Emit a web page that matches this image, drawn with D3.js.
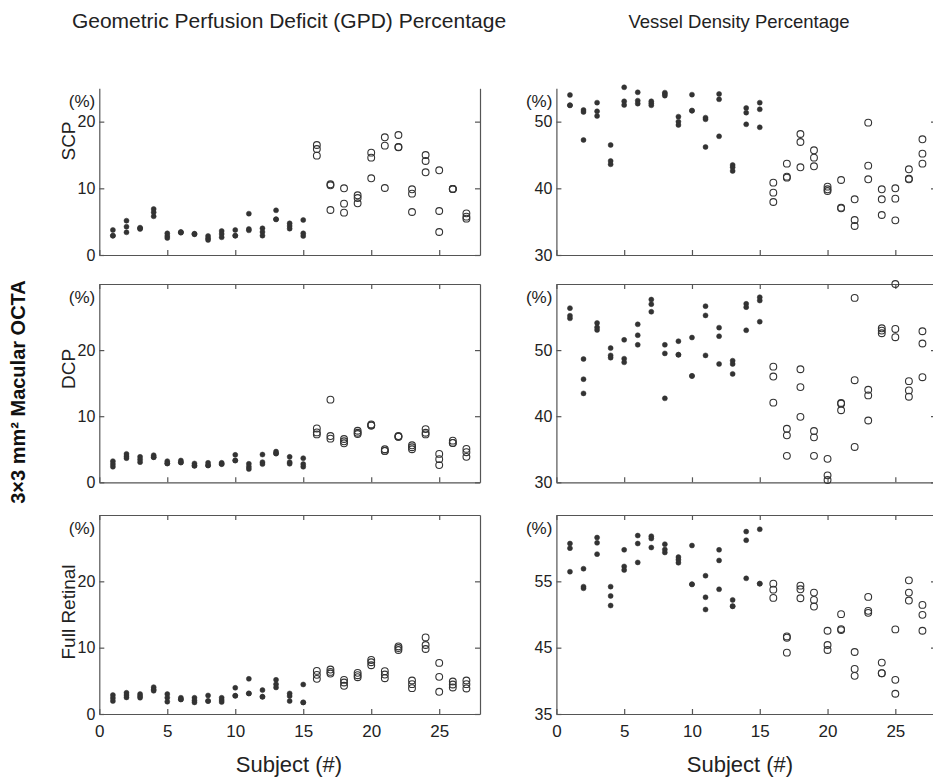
<!DOCTYPE html>
<html><head><meta charset="utf-8">
<script src="https://cdn.jsdelivr.net/npm/d3@7"></script>
<style>body{margin:0;background:#fff}svg{display:block;font-family:"Liberation Sans",Arial,sans-serif}</style>
</head><body><svg id="c" width="933" height="777"></svg>
<script>
const subjects = d3.range(1, 28);
const filledUpTo = 15;
const xTicks = [0, 5, 10, 15, 20, 25];
const colTitles = ["Geometric Perfusion Deficit (GPD) Percentage", "Vessel Density Percentage"];
const rowLabels = ["SCP", "DCP", "Full Retinal"];

const scpGPD = [[3.75,2.9,2.9],[5.15,4.25,3.4],[4.0,3.9,4.1],[6.9,6.4,5.8],[3.25,2.85,2.55],[3.4,3.35,3.45],[3.15,3.1,3.2],[2.85,2.5,2.25],[3.6,3.15,2.65],[3.75,2.9,2.9],[6.2,3.9,3.7],[4.0,3.45,2.9],[6.7,5.35,5.35],[4.75,4.35,3.95],[5.25,3.25,2.85],
 [16.5,15.9,14.9],[10.6,10.45,6.75],[10.0,7.7,6.35],[8.95,8.55,7.75],[15.35,14.6,11.5],[17.65,16.4,10.05],[18.0,16.15,16.2],[9.85,9.2,6.45],[15.0,14.1,12.4],[12.7,6.6,3.45],[9.9,9.9,9.9],[6.25,5.75,5.45]];
const dcpGPD = [[3.2,2.75,2.35],[4.3,3.95,3.65],[3.85,3.45,3.05],[4.1,3.8,3.8],[3.2,2.85,2.85],[3.3,3.0,3.0],[2.85,2.5,2.5],[2.95,2.55,2.55],[2.95,2.75,2.75],[4.15,3.3,3.3],[2.8,2.35,2.0],[4.2,3.05,2.75],[4.65,4.35,4.35],[3.85,3.05,2.8],[3.65,2.75,2.35],
 [8.15,7.55,7.25],[12.5,7.0,6.6],[6.55,6.2,5.9],[7.8,7.5,7.3],[8.75,8.6,8.6],[5.0,4.75,4.75],[7.0,6.9,6.9],[5.6,5.3,5.0],[8.05,7.5,7.25],[4.3,3.5,2.6],[6.3,5.95,5.95],[5.05,4.55,3.85]];
const fullGPD = [[2.85,2.4,1.95],[3.2,2.85,2.5],[3.0,2.7,2.45],[4.05,3.7,3.5],[3.0,2.45,1.85],[2.45,2.2,2.2],[2.45,2.05,1.75],[2.8,1.95,1.95],[2.45,2.1,1.8],[3.95,2.75,2.75],[5.3,3.1,3.1],[3.6,2.6,2.6],[5.15,4.5,4.0],[3.1,2.7,1.95],[4.45,1.75,1.75],
 [6.5,5.9,5.3],[6.7,6.35,6.1],[5.15,4.75,4.25],[6.2,5.85,5.55],[8.15,7.8,7.35],[6.45,5.95,5.4],[10.2,9.95,9.65],[5.05,4.5,3.9],[11.55,10.4,9.8],[7.7,5.6,3.35],[4.9,4.45,4.0],[5.05,4.5,3.85]];
const scpVD = [[54.0,52.45,52.45],[51.75,51.45,47.25],[52.85,51.55,50.85],[46.5,44.1,43.6],[55.15,53.05,52.5],[54.4,53.15,52.7],[53.05,52.75,52.45],[54.35,54.15,53.9],[50.75,50.0,49.5],[54.05,51.65,51.65],[50.6,50.35,46.2],[54.15,53.35,47.8],[43.5,43.15,42.6],[52.05,51.35,49.6],[52.85,51.85,49.15],
 [40.85,39.35,37.95],[43.7,41.75,41.6],[48.15,46.95,43.15],[45.7,44.6,43.3],[40.25,39.85,39.6],[41.25,37.1,37.0],[38.35,35.25,34.35],[49.85,43.4,41.35],[39.85,38.35,36.0],[40.0,38.45,35.2],[42.85,41.45,41.35],[47.35,45.2,43.7]];
const dcpVD = [[56.35,55.2,54.8],[48.65,45.6,43.45],[54.1,53.45,53.05],[50.3,49.2,48.85],[51.55,48.7,48.15],[53.9,52.25,50.8],[57.65,56.95,55.8],[50.8,49.5,42.7],[51.35,49.3,49.3],[51.9,46.1,46.1],[56.65,55.25,49.2],[53.4,52.1,47.9],[48.4,47.9,46.4],[57.0,56.5,53.0],[58.0,57.5,54.3],
 [47.5,46.0,42.05],[38.1,37.1,34.0],[47.1,44.4,39.9],[37.75,36.8,34.0],[33.55,31.05,30.35],[42.0,41.9,40.9],[57.9,45.45,35.35],[44.0,43.15,39.35],[53.3,52.95,52.55],[60.0,53.2,51.95],[45.3,43.9,42.95],[52.85,51.0,45.9]];
const fullVD = [[60.7,60.0,56.45],[56.9,54.2,53.95],[61.6,60.8,59.1],[54.2,52.8,51.35],[59.75,57.25,56.7],[61.9,60.7,57.85],[61.8,61.45,60.1],[60.6,59.8,59.35],[58.65,58.25,57.8],[60.4,54.55,54.55],[55.85,52.6,50.75],[59.75,58.15,53.8],[52.2,51.25,51.25],[62.5,61.2,55.45],[62.85,54.65,54.65],
 [54.65,53.75,52.5],[46.7,46.5,44.25],[54.35,53.8,52.45],[53.3,52.2,51.2],[47.55,45.4,44.65],[50.05,47.8,47.65],[44.35,41.8,40.75],[52.65,50.55,50.25],[42.75,41.15,41.15],[47.75,40.15,38.05],[55.15,53.3,52.1],[51.45,49.95,47.55]];

const yDomains = [[[0,25],[30,55]],[[0,30],[30,60]],[[0,30],[35,65]]];
const yTicks = [[[0,10,20],[30,40,50]],[[0,10,20],[30,40,50]],[[0,10,20],[35,45,55]]];
const panelData = [[scpGPD, scpVD],[dcpGPD, dcpVD],[fullGPD, fullVD]];

const svg = d3.select("#c");
const colX = [[99.3, 480], [556.4, 936]];
const rowY = [[255, 88.3], [482.3, 284], [714, 515]];
const axisCol = "#555", ink = "#333";
const FONT = "Liberation Sans, Arial, sans-serif";

for (let r = 0; r < 3; r++) {
  for (let c = 0; c < 2; c++) {
    const x = d3.scaleLinear().domain([0, 28]).range(colX[c]);
    const y = d3.scaleLinear().domain(yDomains[r][c]).range(rowY[r]);
    const g = svg.append("g");
    const [x0, x1] = colX[c], [y0, y1] = rowY[r];
    const bottom = g.append("g").attr("transform", `translate(0,${y0})`)
      .call(d3.axisBottom(x).tickValues(xTicks).tickSizeInner(-5).tickSizeOuter(0).tickFormat(r === 2 ? d3.format("d") : ""));
    const axes = [bottom];
    if (r > 0) {
      axes.push(g.append("g").attr("transform", `translate(0,${y1})`)
        .call(d3.axisTop(x).tickValues(xTicks).tickSizeInner(-5).tickSizeOuter(0).tickFormat("")));
    }
    const left = g.append("g").attr("transform", `translate(${x0},0)`)
      .call(d3.axisLeft(y).tickValues(yTicks[r][c]).tickSizeInner(-5).tickSizeOuter(0).tickPadding(4));
    const right = g.append("g").attr("transform", `translate(${x1},0)`)
      .call(d3.axisRight(y).tickValues(yTicks[r][c]).tickSizeInner(-5).tickSizeOuter(0).tickFormat(""));
    axes.push(left, right);
    axes.forEach(a => {
      a.selectAll("path,line").attr("stroke", axisCol).attr("stroke-width", 1.2);
      a.selectAll("text").attr("fill", "#222").style("font-size", "16px").style("font-family", FONT);
    });
    bottom.selectAll("text").attr("dy", "1.2em").style("font-size", "17px");
    g.append("text").attr("x", x0 - 4).attr("y", y1 + 19).attr("text-anchor", "end")
      .style("font-size", "17px").attr("fill", "#222").text("(%)");
    const pts = [];
    panelData[r][c].forEach((vals, i) => vals.forEach(v => pts.push({s: subjects[i], v})));
    g.selectAll("circle").data(pts).join("circle")
      .attr("cx", d => x(d.s)).attr("cy", d => y(d.v))
      .attr("r", d => d.s <= filledUpTo ? 2.5 : 3.4)
      .attr("fill", d => d.s <= filledUpTo ? ink : "none")
      .attr("stroke", ink).attr("stroke-width", d => d.s <= filledUpTo ? 0.5 : 1.1);
    if (r === 2) {
      g.append("text").attr("x", c === 0 ? 289 : 740).attr("y", 772)
        .attr("text-anchor", "middle").style("font-size", "22px").attr("fill", "#222").text("Subject (#)");
    }
  }
}
svg.append("text").attr("x", 289).attr("y", 28).attr("text-anchor", "middle").style("font-size", "21px").attr("fill", "#222").text(colTitles[0]);
svg.append("text").attr("x", 739).attr("y", 28).attr("text-anchor", "middle").style("font-size", "18.5px").attr("fill", "#222").text(colTitles[1]);
const rowCenters = [141, 369, 612];
rowLabels.forEach((t, i) => {
  svg.append("text").attr("transform", `translate(75,${rowCenters[i]}) rotate(-90)`)
    .attr("text-anchor", "middle").style("font-size", "19px").attr("fill", "#222").text(t);
});
svg.append("text").attr("transform", "translate(25,392) rotate(-90)").attr("text-anchor", "middle")
  .style("font-size", "20px").style("font-weight", "bold").attr("fill", "#111").text("3×3 mm² Macular OCTA");
</script></body></html>
